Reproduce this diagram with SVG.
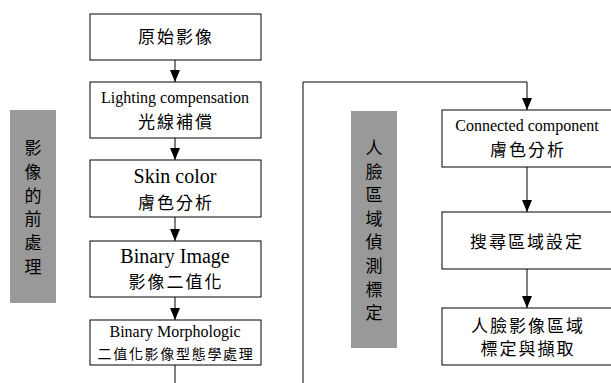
<svg xmlns="http://www.w3.org/2000/svg" width="611" height="383" viewBox="0 0 611 383">
<style>
.box{fill:#fff;stroke:#000;stroke-width:1}
.side{fill:#999999;stroke:none}
.en{font-family:"Liberation Serif","Times New Roman",serif;fill:#000;text-anchor:middle}
.zh{font-family:"Noto Sans CJK TC","Noto Sans CJK SC",sans-serif;fill:#000;text-anchor:middle;font-size:17px;letter-spacing:2px}
.vt{font-family:"Noto Sans CJK TC","Noto Sans CJK SC",sans-serif;fill:#000;text-anchor:middle;font-size:17px}
.ln{fill:none;stroke:#000;stroke-width:1}
</style>
<defs>
<marker id="ah" viewBox="0 0 12 10" refX="12" refY="5" markerWidth="12" markerHeight="10" markerUnits="userSpaceOnUse" orient="auto">
<path d="M0,0 L12,5 L0,10 z" fill="#000"/>
</marker>
</defs>
<g id="connectors">
<line class="ln" x1="175" y1="60" x2="175" y2="82" marker-end="url(#ah)"/>
<line class="ln" x1="175" y1="138" x2="175" y2="160" marker-end="url(#ah)"/>
<line class="ln" x1="175" y1="217" x2="175" y2="241" marker-end="url(#ah)"/>
<line class="ln" x1="175" y1="297" x2="175" y2="320" marker-end="url(#ah)"/>
<line class="ln" x1="175" y1="365" x2="175" y2="383"/>
<polyline class="ln" points="303,383 303,82 527,82 527,110" marker-end="url(#ah)"/>
<line class="ln" x1="527" y1="167" x2="527" y2="212" marker-end="url(#ah)"/>
<line class="ln" x1="527" y1="269" x2="527" y2="308" marker-end="url(#ah)"/>
</g>
<g id="side-left">
<rect class="side" x="10" y="110" width="46" height="193"/>
<text class="vt" x="33" y="154">影</text>
<text class="vt" x="33" y="178">像</text>
<text class="vt" x="33" y="202">的</text>
<text class="vt" x="33" y="225">前</text>
<text class="vt" x="33" y="249">處</text>
<text class="vt" x="33" y="273">理</text>
</g>
<g id="side-right">
<rect class="side" x="351" y="111" width="46" height="237"/>
<text class="vt" x="374" y="154">人</text>
<text class="vt" x="374" y="177.6">臉</text>
<text class="vt" x="374" y="201.2">區</text>
<text class="vt" x="374" y="224.8">域</text>
<text class="vt" x="374" y="248.4">偵</text>
<text class="vt" x="374" y="272">測</text>
<text class="vt" x="374" y="295.6">標</text>
<text class="vt" x="374" y="319.2">定</text>
</g>
<g id="n1">
<rect class="box" x="90" y="14" width="171" height="46"/>
<text class="zh" x="176" y="43">原始影像</text>
</g>
<g id="n2">
<rect class="box" x="90" y="82" width="171" height="56"/>
<text class="en" x="175" y="103" font-size="16">Lighting compensation</text>
<text class="zh" x="176" y="128">光線補償</text>
</g>
<g id="n3">
<rect class="box" x="90" y="160" width="171" height="57"/>
<text class="en" x="175" y="183" font-size="20">Skin color</text>
<text class="zh" x="176" y="209">膚色分析</text>
</g>
<g id="n4">
<rect class="box" x="90" y="241" width="171" height="56"/>
<text class="en" x="175" y="263" font-size="20">Binary Image</text>
<text class="zh" x="176" y="288">影像二值化</text>
</g>
<g id="n5">
<rect class="box" x="90" y="320" width="171" height="45"/>
<text class="en" x="175" y="337" font-size="16">Binary Morphologic</text>
<text class="zh" x="176" y="359" style="font-size:14px;letter-spacing:1.7px">二值化影像型態學處理</text>
</g>
<g id="n6">
<rect class="box" x="442" y="110" width="170" height="57"/>
<text class="en" x="527" y="131" font-size="16">Connected component</text>
<text class="zh" x="528" y="156">膚色分析</text>
</g>
<g id="n7">
<rect class="box" x="442" y="212" width="170" height="57"/>
<text class="zh" x="527" y="248">搜尋區域設定</text>
</g>
<g id="n8">
<rect class="box" x="442" y="308" width="170" height="57"/>
<text class="zh" x="528" y="332">人臉影像區域</text>
<text class="zh" x="528" y="355">標定與擷取</text>
</g>
</svg>
